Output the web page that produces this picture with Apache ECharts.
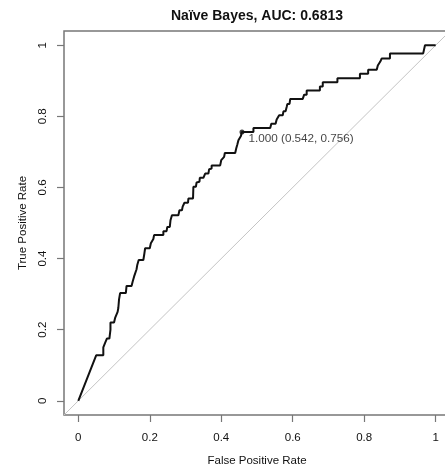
<!DOCTYPE html>
<html>
<head>
<meta charset="utf-8">
<script src="https://cdn.jsdelivr.net/npm/echarts@6/dist/echarts.min.js"></script>
<style>
  html, body { margin: 0; padding: 0; background: #fff; }
  #chart { width: 445px; height: 466px; }
</style>
</head>
<body>
<div id="chart"></div>
<script>
// ROC curve of the Naive Bayes classifier (false positive rate vs true positive rate)
const fpr = [
  0.000, 0.050, 0.070, 0.070, 0.075, 0.075, 0.080, 0.080, 0.087, 0.090,
  0.090, 0.100, 0.103, 0.108, 0.110, 0.112, 0.114, 0.117, 0.133, 0.135,
  0.149, 0.152, 0.154, 0.156, 0.160, 0.163, 0.165, 0.169, 0.182, 0.185,
  0.187, 0.200, 0.203, 0.207, 0.210, 0.212, 0.238, 0.238, 0.247, 0.249,
  0.256, 0.258, 0.262, 0.280, 0.283, 0.290, 0.292, 0.296, 0.297, 0.307,
  0.308, 0.321, 0.322, 0.329, 0.331, 0.339, 0.340, 0.350, 0.355, 0.364,
  0.366, 0.373, 0.373, 0.397, 0.400, 0.405, 0.408, 0.410, 0.439, 0.442,
  0.445, 0.448, 0.452, 0.455, 0.458, 0.490, 0.490, 0.537, 0.540, 0.552,
  0.555, 0.560, 0.562, 0.572, 0.574, 0.580, 0.583, 0.585, 0.591, 0.593,
  0.628, 0.632, 0.639, 0.639, 0.676, 0.676, 0.684, 0.684, 0.725, 0.725,
  0.788, 0.788, 0.811, 0.811, 0.835, 0.838, 0.843, 0.845, 0.849, 0.872,
  0.872, 0.965, 0.970, 1.000
];
const tpr = [
  0.000, 0.128, 0.128, 0.150, 0.150, 0.163, 0.163, 0.175, 0.175, 0.200,
  0.220, 0.220, 0.233, 0.233, 0.250, 0.261, 0.285, 0.303, 0.303, 0.323,
  0.323, 0.335, 0.335, 0.349, 0.349, 0.370, 0.382, 0.396, 0.396, 0.415,
  0.429, 0.429, 0.443, 0.443, 0.455, 0.466, 0.466, 0.477, 0.477, 0.489,
  0.489, 0.508, 0.522, 0.522, 0.536, 0.536, 0.546, 0.546, 0.557, 0.557,
  0.569, 0.569, 0.602, 0.602, 0.614, 0.616, 0.627, 0.627, 0.639, 0.639,
  0.651, 0.653, 0.662, 0.662, 0.677, 0.677, 0.686, 0.697, 0.697, 0.710,
  0.721, 0.733, 0.733, 0.745, 0.756, 0.756, 0.767, 0.767, 0.779, 0.779,
  0.791, 0.791, 0.803, 0.803, 0.814, 0.814, 0.826, 0.835, 0.835, 0.849,
  0.849, 0.861, 0.861, 0.873, 0.873, 0.884, 0.884, 0.896, 0.896, 0.907,
  0.907, 0.920, 0.920, 0.931, 0.931, 0.943, 0.943, 0.954, 0.963, 0.963,
  0.977, 0.977, 1.000, 1.000
];

// Chance line
const chanceX = [-0.04, 1.04];
const chanceY = [-0.04, 1.04];

// Best threshold: threshold, specificity, sensitivity
const bestThreshold = 1.000;
const bestSpecificity = 0.542;
const bestSensitivity = 0.756;

const tickValues = [0, 0.2, 0.4, 0.6, 0.8, 1];

const titleText = 'Naïve Bayes, AUC: 0.6813';
const xName = 'False Positive Rate';
const yName = 'True Positive Rate';

const FONT = '"Liberation Sans", Arial, Helvetica, sans-serif';
const tickFmt = v => (Math.abs(v) < 1e-9 ? '0' : Math.abs(v - 1) < 1e-9 ? '1' : String(+v.toFixed(1)));

const rocData = fpr.map((x, i) => [x, tpr[i]]);
const chanceData = chanceX.map((x, i) => [x, chanceY[i]]);
const bestPoint = [[1 - bestSpecificity, bestSensitivity]];
const bestLabel = bestThreshold.toFixed(3) + ' (' + bestSpecificity.toFixed(3) + ', ' + bestSensitivity.toFixed(3) + ')';

const chart = echarts.init(document.getElementById('chart'), null, { renderer: 'canvas' });
chart.setOption({
  animation: false,
  backgroundColor: '#ffffff',
  title: {
    text: titleText,
    left: 257,
    textAlign: 'center',
    top: 9,
    padding: 0,
    textStyle: { fontFamily: FONT, fontSize: 14, fontWeight: 'bold', color: '#111' }
  },
  grid: {
    show: true,
    left: 64, top: 31, width: 386, bottom: 51,
    outerBoundsMode: 'none',
    containLabel: false,
    borderColor: '#777', borderWidth: 1.5,
    backgroundColor: 'transparent'
  },
  xAxis: {
    type: 'value', min: -0.04, max: 1.04,
    name: xName, nameLocation: 'middle', nameGap: 40,
    nameTextStyle: { fontFamily: FONT, fontSize: 11.5, color: '#111' },
    axisLine: { show: false, onZero: false },
    splitLine: { show: false },
    axisTick: { show: true, length: 7, inside: false, customValues: tickValues, lineStyle: { color: '#777', width: 1.2 } },
    axisLabel: { customValues: tickValues, formatter: tickFmt, margin: 17, fontFamily: FONT, fontSize: 11.5, color: '#111' }
  },
  yAxis: {
    type: 'value', min: -0.04, max: 1.04,
    name: yName, nameLocation: 'middle', nameGap: 35, nameRotate: 90,
    nameTextStyle: { fontFamily: FONT, fontSize: 11.5, color: '#111' },
    axisLine: { show: false, onZero: false },
    splitLine: { show: false },
    axisTick: { show: true, length: 7, inside: false, customValues: tickValues, lineStyle: { color: '#777', width: 1.2 } },
    axisLabel: { customValues: tickValues, formatter: tickFmt, rotate: 90, margin: 15, fontFamily: FONT, fontSize: 11.5, color: '#111' }
  },
  series: [
    {
      type: 'line', data: chanceData, symbol: 'none', silent: true,
      lineStyle: { color: '#c4c4c4', width: 1 }, z: 1
    },
    {
      type: 'line', data: rocData, symbol: 'none', silent: true,
      lineStyle: { color: '#111', width: 2 }, z: 2
    },
    {
      type: 'scatter', data: bestPoint, symbol: 'circle', symbolSize: 5, silent: true,
      itemStyle: { color: '#111' }, z: 3,
      label: {
        show: true, position: 'right', distance: 4, offset: [0, 7],
        formatter: bestLabel, fontFamily: FONT, fontSize: 11.7, color: '#111'
      }
    }
  ]
});
</script>
</body>
</html>
